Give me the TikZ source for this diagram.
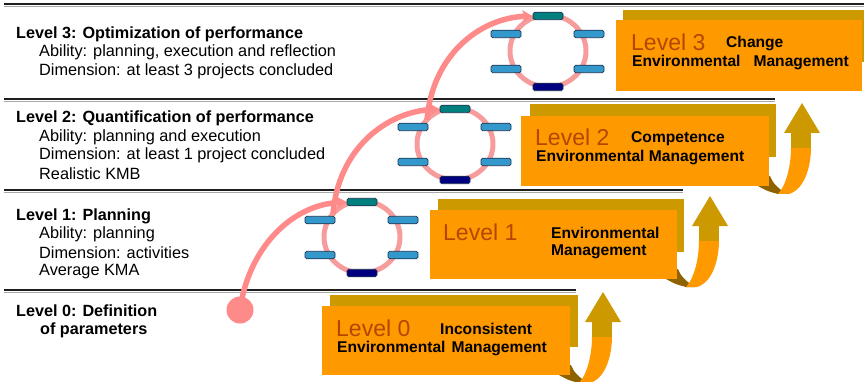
\documentclass[tikz,border=0pt]{standalone}
\usepackage{fontspec}
\setmainfont{Liberation Sans}
\usetikzlibrary{arrows.meta}
\definecolor{boxorange}{HTML}{FF9900}
\definecolor{boxgold}{HTML}{CC9900}
\definecolor{leveltxt}{HTML}{B34700}
\definecolor{shadebrown}{HTML}{8F6200}
\definecolor{pinkarrow}{HTML}{FF8A8A}
\definecolor{pinkring}{HTML}{F79C9C}
\definecolor{barteal}{HTML}{007F7F}
\definecolor{barnavy}{HTML}{000080}
\definecolor{barblue}{HTML}{3399CC}
\definecolor{barline}{HTML}{1F3550}
\definecolor{ruledark}{HTML}{1E1E1E}
\definecolor{rulegray}{HTML}{A8A8A8}
\tikzset{
  lefttitle/.style={anchor=west, inner sep=0pt, font=\fontsize{16.2}{18}\selectfont\bfseries},
  lefttext/.style={anchor=west, inner sep=0pt, font=\fontsize{16.3}{18}\selectfont},
  levelbig/.style={anchor=west, inner sep=0pt, text=leveltxt, font=\fontsize{23}{26}\selectfont},
  levelsub/.style={anchor=west, inner sep=0pt, font=\fontsize{15.6}{18}\selectfont\bfseries},
  ruledk/.style={draw=ruledark, line width=2.2pt},
  rulegr/.style={draw=rulegray, line width=1pt},
  ring/.style={draw=pinkring, line width=5pt},
  barbox/.style={draw=barline, line width=0.8pt, rounded corners=1.6pt, minimum width=30pt, minimum height=7.5pt, inner sep=0pt},
  pinkarr/.style={draw=pinkarrow, line width=5.5pt, -{Stealth[length=10pt,width=12pt,inset=2pt]}},
  pinkdot/.style={circle, fill=pinkarrow, minimum size=27pt, inner sep=0pt},
  upribbon/.pic={
    \fill[shadebrown] (-11,0) .. controls (-2,5) .. (9,8) -- (18,8) .. controls (8,2) and (3,-4) .. (1,-10) -- (0,-10) -- cycle;
    \fill[boxorange] (9,8) -- (20,8) .. controls (36,3) and (42,-20) .. (42,-39) -- (22,-39) .. controls (22,-22) and (18,-2) .. (9,8) -- cycle;
    \fill[boxgold] (22,-38) rectangle (42,-53);
    \fill[boxgold] (15,-53) -- (51,-53) -- (33,-83) -- cycle;
  }
}
\begin{document}
\begin{tikzpicture}[x=1pt,y=-1pt]
\useasboundingbox (0,0) rectangle (864,382);
\fill[white] (0,0) rectangle (864,382);

% horizontal rules
\coordinate (l3a) at (4,4);   \coordinate (l3b) at (864,4);
\coordinate (l2a) at (4,99);  \coordinate (l2b) at (775,99);
\coordinate (l1a) at (4,190); \coordinate (l1b) at (683,190);
\coordinate (l0a) at (4,290); \coordinate (l0b) at (576,290);
\foreach \a/\b in {l3a/l3b,l2a/l2b,l1a/l1b,l0a/l0b}{
  \draw[ruledk] (\a) -- (\b);
  \draw[rulegr] ([yshift=-2.3pt]\a) -- ([yshift=-2.3pt]\b);
}

% left texts
\node[lefttitle] (t3) at (16,34) {Level 3: Optimization of performance};
\node[lefttext] (t3a) at (39,52) {Ability: planning, execution and reflection};
\node[lefttext] (t3b) at (39,71) {Dimension: at least 3 projects concluded};
\node[lefttitle] (t2) at (16,118) {Level 2: Quantification of performance};
\node[lefttext] (t2a) at (39,137) {Ability: planning and execution};
\node[lefttext] (t2b) at (39,155) {Dimension: at least 1 project concluded};
\node[lefttext] (t2c) at (39,174) {Realistic KMB};
\node[lefttitle] (t1) at (16,216) {Level 1: Planning};
\node[lefttext] (t1a) at (39,234) {Ability: planning};
\node[lefttext] (t1b) at (39,253) {Dimension: activities};
\node[lefttext] (t1c) at (39,272) {Average KMA};
\node[lefttitle] (t0) at (16,311) {Level 0: Definition};
\node[lefttitle] (t0a) at (40,330) {of parameters};

% ribbons (drawn below boxes)
\pic at (570,375) {upribbon};
\pic at (677,279) {upribbon};
\pic at (769,186) {upribbon};

% level boxes
\fill[boxgold] (330,295) rectangle (578,347);
\fill[boxorange] (322,306) rectangle (570,375);
\fill[boxgold] (438,199) rectangle (684,252);
\fill[boxorange] (430,210) rectangle (677,279);
\fill[boxgold] (530,104) rectangle (776,157);
\fill[boxorange] (521,116) rectangle (769,186);
\fill[boxgold] (623,10) rectangle (864,62);
\fill[boxorange] (616,20) rectangle (862,91);

% box texts
\node[levelbig] (b3) at (631,42) {Level 3};
\node[levelsub] (b3a) at (726,44) {Change};
\node[levelsub] (b3b) at (632,63) {Environmental\hspace{13pt}Management};
\node[levelbig] (b2) at (535,137) {Level 2};
\node[levelsub] (b2a) at (631,139) {Competence};
\node[levelsub] (b2b) at (536,158) {Environmental Management};
\node[levelbig] (b1) at (443,232) {Level 1};
\node[levelsub] (b1a) at (551,233) {Environmental};
\node[levelsub] (b1b) at (551,252) {Management};
\node[levelbig] (b0) at (336,328) {Level 0};
\node[levelsub] (b0a) at (440,329) {Inconsistent};
\node[levelsub] (b0b) at (337,348) {Environmental\hspace{6pt}Management};

% rings
\foreach \n/\cx/\cy in {1/362/237, 2/455/144, 3/548/51}{
  \draw[ring] (\cx,\cy) ellipse [x radius=38pt, y radius=36pt];
  \node[barbox, fill=barteal] (r\n t) at (\cx,\cy-35) {};
  \node[barbox, fill=barnavy] (r\n b) at (\cx,\cy+36) {};
  \node[barbox, fill=barblue] (r\n l1) at (\cx-42,\cy-17) {};
  \node[barbox, fill=barblue] (r\n l2) at (\cx-42,\cy+18) {};
  \node[barbox, fill=barblue] (r\n r1) at (\cx+41,\cy-17) {};
  \node[barbox, fill=barblue] (r\n r2) at (\cx+41,\cy+18) {};
}

% pink arrows
\node[pinkdot] (dot) at (240,310) {};
\coordinate (s2) at (333,214);
\coordinate (s3) at (427,120);
\draw[pinkarr] (dot.center) .. controls (248,250) and (290,205) .. (r1t.west);
\draw[pinkarr] (s2) .. controls (338,150) and (385,112) .. (r2t.west);
\draw[pinkarr] (s3) .. controls (432,56) and (479,18) .. (r3t.west);
\end{tikzpicture}
\end{document}
